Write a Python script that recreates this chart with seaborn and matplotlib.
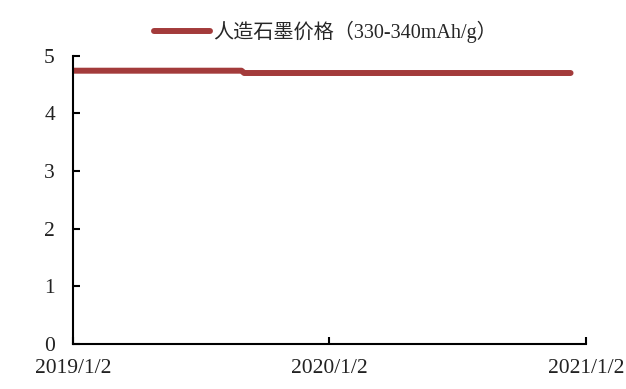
import pandas as pd
import matplotlib
matplotlib.use("Agg")
import matplotlib.pyplot as plt
import seaborn as sns

# Artificial graphite price (330-340mAh/g)
dates = ["2019-01-02", "2019-08-30", "2019-09-03", "2020-12-11"]
prices = [4.74, 4.74, 4.70, 4.70]
series_name = "人造石墨价格（330-340mAh/g）"
x_ticks = ["2019-01-02", "2020-01-02", "2021-01-02"]
x_tick_labels = ["2019/1/2", "2020/1/2", "2021/1/2"]
y_ticks = [0, 1, 2, 3, 4, 5]

sns.set_theme(style="white")
plt.rcParams["font.family"] = ["Liberation Serif", "Noto Sans CJK SC", "DejaVu Sans"]

df = pd.DataFrame({"date": pd.to_datetime(dates), "price": prices, "series": series_name})

fig = plt.figure(figsize=(6.26, 3.89), dpi=100)
ax = fig.add_axes([0.1166, 0.1157, 0.8195, 0.7411])

sns.lineplot(data=df, x="date", y="price", hue="series", palette=["#A33B3B"],
             linewidth=4.3, ax=ax, solid_capstyle="round", legend=True)

ax.set_xlim(pd.Timestamp(x_ticks[0]), pd.Timestamp(x_ticks[-1]))
ax.set_ylim(0, 5)
ax.set_xticks(pd.to_datetime(x_ticks))
ax.set_xticklabels(x_tick_labels)
ax.set_yticks(y_ticks)
ax.set_xlabel("")
ax.set_ylabel("")

for side in ["top", "right"]:
    ax.spines[side].set_visible(False)
for side in ["left", "bottom"]:
    ax.spines[side].set_color("black")
    ax.spines[side].set_linewidth(1.5)

ax.tick_params(axis="both", direction="in", length=5, width=1.5, colors="black",
               labelsize=15.5, labelcolor="#222222")
ax.tick_params(axis="y", pad=13)
ax.tick_params(axis="x", pad=11)
ax.tick_params(axis="both", left=True, bottom=True)

handles, labels = ax.get_legend_handles_labels()
ax.legend(handles, labels, loc="center", bbox_to_anchor=(0.52, 0.918),
          bbox_transform=fig.transFigure, frameon=False, fontsize=14.5,
          handlelength=2.8, handletextpad=0.15)

fig.savefig("out.png", dpi=100)
